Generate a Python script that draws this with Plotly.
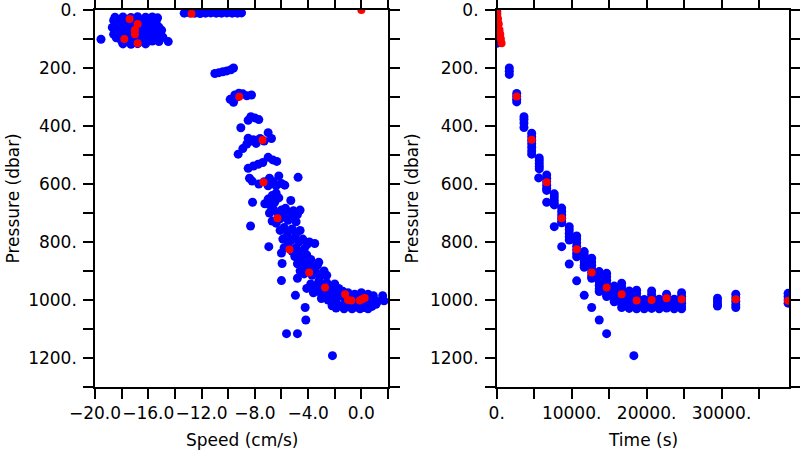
import plotly.graph_objects as go

# ---------------- data ----------------
# Left panel: (speed cm/s, pressure dbar) groups, blue points
left_surface_cluster = [
    (-18.5, 25), (-17.9, 24), (-17.3, 26), (-16.8, 23), (-16.2, 25), (-15.7, 24), (-15.3, 27),
    (-18.6, 36), (-18.0, 35), (-17.5, 37), (-16.9, 34), (-16.4, 36), (-15.8, 35), (-15.4, 38),
    (-18.4, 48), (-17.8, 47), (-17.2, 49), (-16.6, 46), (-16.0, 48), (-15.5, 50),
    (-18.7, 60), (-18.1, 59), (-17.5, 61), (-16.9, 58), (-16.3, 60), (-15.7, 62), (-15.2, 59),
    (-18.5, 72), (-17.9, 71), (-17.3, 73), (-16.7, 70), (-16.1, 72), (-15.5, 74), (-15.0, 70),
    (-18.6, 84), (-18.0, 83), (-17.4, 85), (-16.8, 82), (-16.2, 84), (-15.6, 86), (-15.1, 81),
    (-18.4, 96), (-17.8, 95), (-17.1, 97), (-16.5, 94), (-15.9, 96), (-15.3, 98), (-14.9, 94),
    (-18.0, 107), (-17.5, 108), (-16.9, 106), (-16.3, 108), (-15.7, 107), (-15.2, 109), (-14.5, 109),
    (-17.9, 117), (-17.3, 118), (-16.8, 116), (-16.2, 117),
    (-19.55, 101),
]
left_surface_line = [
    (-13.3, 11), (-12.9, 10), (-12.5, 11), (-12.1, 12), (-11.7, 11), (-11.3, 10),
    (-10.9, 11), (-10.5, 11), (-10.1, 10), (-9.7, 11), (-9.3, 11), (-9.0, 10),
]
left_mid_depth = [
    (-11.0, 219), (-10.7, 216), (-10.4, 213), (-10.1, 210), (-9.8, 206), (-9.6, 200),
    (-9.85, 308), (-9.6, 318), (-9.5, 293), (-9.2, 287), (-8.9, 289), (-8.6, 296), (-8.25, 293), (-9.35, 300),
    (-8.5, 380), (-8.3, 368), (-8.0, 372), (-7.7, 378), (-9.05, 406),
    (-9.25, 497), (-8.9, 478), (-8.6, 462), (-8.3, 452), (-8.5, 442), (-7.9, 460), (-7.6, 443),
    (-7.3, 452), (-7.0, 423), (-6.75, 443), (-8.1, 447),
    (-8.5, 546), (-8.1, 538), (-7.75, 532), (-7.4, 526), (-7.0, 508), (-6.65, 517), (-6.35, 522),
    (-8.4, 580), (-8.2, 590), (-7.7, 600), (-7.3, 592), (-6.9, 580), (-6.6, 592), (-6.2, 572),
    (-6.0, 598), (-5.75, 604), (-6.4, 606), (-7.0, 606), (-4.75, 577),
    (-8.17, 663), (-7.25, 668), (-7.0, 652), (-6.7, 640), (-6.4, 632), (-6.2, 648), (-6.5, 662),
    (-6.9, 672), (-5.3, 657),
    (-6.9, 700), (-6.6, 688), (-6.3, 700), (-6.0, 690), (-5.7, 684), (-5.4, 698), (-5.1, 692),
    (-4.8, 705), (-4.6, 690), (-6.7, 728), (-6.1, 720), (-5.8, 710), (-5.5, 725), (-5.2, 715),
    (-4.9, 730), (-6.4, 735), (-8.32, 745),
]
left_deep = [
    (-6.1, 760), (-5.8, 750), (-5.5, 765), (-5.2, 755), (-4.9, 770), (-4.6, 760),
    (-5.9, 790), (-5.6, 780), (-5.3, 795), (-5.0, 785), (-4.7, 800), (-4.4, 790), (-4.1, 810),
    (-5.8, 820), (-5.5, 810), (-5.2, 832), (-4.9, 820), (-4.6, 838), (-4.3, 825), (-3.9, 800), (-6.0, 838),
    (-6.95, 816), (-3.5, 805), (-5.95, 874), (-6.0, 933), (-4.95, 984), (-4.22, 1026),
    (-4.17, 1069), (-5.62, 1116), (-4.8, 1116), (-2.17, 1192),
    (-5.0, 850), (-4.7, 840), (-4.4, 855), (-4.1, 845), (-3.8, 860), (-4.8, 875), (-4.5, 868),
    (-4.2, 882), (-3.9, 875), (-3.6, 890), (-3.3, 880), (-4.6, 900), (-4.3, 910), (-4.0, 895),
    (-3.7, 915), (-3.4, 905), (-3.1, 920), (-2.8, 900), (-2.6, 915), (-4.8, 925), (-3.2, 870),
    (-4.1, 960), (-3.8, 945), (-3.5, 955), (-3.2, 935), (-2.9, 950), (-2.6, 940), (-2.3, 955),
    (-2.0, 945), (-1.7, 960), (-1.4, 970), (-3.6, 975), (-3.3, 965), (-3.0, 980), (-2.7, 970),
    (-2.4, 985), (-2.1, 975), (-1.8, 990), (-1.5, 985), (-2.5, 1000), (-2.2, 1010), (-1.9, 1005),
    (-3.0, 995),
]
left_bottom = [
    (-2.2, 1020), (-1.9, 1028), (-1.6, 1020), (-1.3, 1030), (-1.0, 1022), (-0.7, 1030),
    (-0.4, 1024), (-0.1, 1030), (0.2, 1026), (0.5, 1030), (0.8, 1022),
    (-1.2, 1000), (-0.9, 990), (-0.6, 1005), (-0.3, 995), (0.0, 1010), (0.3, 1000),
    (0.6, 1010), (0.9, 995), (1.2, 1005), (1.6, 985), (1.7, 1003),
    (-1.5, 970), (-1.0, 975), (-0.5, 980), (0.0, 975), (0.5, 980), (0.9, 985),
    (-0.8, 1015), (0.3, 1018), (1.1, 1015),
]
# Left panel red points
left_red = [
    (0.0, 0), (-12.75, 13), (-17.4, 31), (-16.8, 48), (-17.0, 69), (-17.0, 84), (-17.8, 100),
    (-16.8, 115), (-9.17, 299), (-7.42, 448), (-7.35, 594), (-6.3, 718), (-5.4, 826),
    (-3.92, 905), (-2.73, 957), (-1.22, 980), (-1.0, 1000), (-0.75, 1002), (-0.12, 1002),
    (0.25, 993), (0.05, 997),
]

# Right panel: time columns (s) with their pressures (dbar), blue points
col_times = [0, 1680, 2670, 3640, 4670, 5680, 5600, 6670, 7680, 8670, 9680, 10670, 11680,
             12670, 13680, 14670, 15680, 16670, 17680, 18300, 18670, 19680, 20670, 21680,
             22670, 23680, 24670, 29460, 31900, 38880]
col_pres = [
    [5, 25, 45, 65, 85, 100, 115],
    [200, 211, 222],
    [288, 298, 308, 317],
    [368, 378, 390, 405],
    [425, 437, 449, 461, 473, 486, 497],
    [510, 520, 530, 540, 548],
    [579],
    [569, 580, 592, 604, 615, 622, 663],
    [634, 645, 656, 667, 672, 747],
    [683, 695, 707, 718, 729, 734, 816],
    [747, 758, 770, 782, 793, 876],
    [779, 790, 802, 815, 828, 840, 851, 934],
    [833, 845, 857, 869, 880, 887, 984],
    [856, 868, 880, 892, 905, 917, 925, 1026],
    [902, 914, 926, 938, 950, 962, 971, 1069],
    [908, 920, 932, 945, 958, 970, 982, 988, 1116],
    [952, 964, 976, 988, 1000, 1006],
    [942, 954, 966, 978, 990, 1002, 1014, 1026],
    [969, 981, 993, 1005, 1017, 1029],
    [1192],
    [966, 978, 990, 1002, 1014, 1026, 1030],
    [998, 1010, 1022, 1030],
    [969, 981, 993, 1005, 1017, 1029],
    [997, 1009, 1021, 1030],
    [980, 992, 1004, 1016, 1028],
    [997, 1009, 1021, 1030],
    [975, 987, 999, 1011, 1023, 1030],
    [994, 1005, 1016, 1021],
    [980, 992, 1004, 1016, 1026],
    [977, 988, 1000, 1011],
]
# Right panel red points
right_red_time = [0, 90, 180, 280, 380, 470, 560, 650, 2670, 4670, 6670, 8670, 10670,
                  12670, 14670, 16670, 18670, 20670, 22670, 24670, 31900, 38880]
right_red_pres = [0, 14, 31, 48, 69, 84, 100, 115, 298, 447, 594, 718, 825,
                  905, 957, 980, 1002, 1000, 994, 997, 997, 1003]

# Tick labels
p_ticks = [0, 100, 200, 300, 400, 500, 600, 700, 800, 900, 1000, 1100, 1200, 1300]
p_labels = ["0.", "", "200.", "", "400.", "", "600.", "", "800.", "", "1000.", "", "1200.", ""]
speed_ticks = [-20, -18, -16, -14, -12, -10, -8, -6, -4, -2, 0, 2]
speed_labels = ["\u221220.0", "", "\u221216.0", "", "\u221212.0", "", "\u22128.0", "",
                "\u22124.0", "", "0.0", ""]
time_ticks = [0, 5000, 10000, 15000, 20000, 25000, 30000, 35000]
time_labels = ["0.", "", "10000.", "", "20000.", "", "30000.", ""]

# ---------------- figure ----------------
left_blue = left_surface_cluster + left_surface_line + left_mid_depth + left_deep + left_bottom
rt, rp = [], []
for t, ps in zip(col_times, col_pres):
    for p in ps:
        rt.append(t)
        rp.append(p)

BLUE = "#0000ff"
RED = "#ff0000"
fig = go.Figure()
fig.add_trace(go.Scatter(x=[a for a, b in left_blue], y=[b for a, b in left_blue], mode="markers",
                         marker=dict(color=BLUE, size=9, line=dict(width=0)), xaxis="x", yaxis="y"))
fig.add_trace(go.Scatter(x=[a for a, b in left_red], y=[b for a, b in left_red], mode="markers",
                         marker=dict(color=RED, size=8, line=dict(width=0)), xaxis="x", yaxis="y"))
fig.add_trace(go.Scatter(x=rt, y=rp, mode="markers",
                         marker=dict(color=BLUE, size=9, line=dict(width=0)), xaxis="x2", yaxis="y2"))
fig.add_trace(go.Scatter(x=right_red_time, y=right_red_pres, mode="markers",
                         marker=dict(color=RED, size=8, line=dict(width=0)), xaxis="x2", yaxis="y2"))

FONT = dict(family="DejaVu Sans", size=17, color="black")
common = dict(showline=True, linecolor="black", linewidth=1.5, mirror="allticks",
              ticks="outside", ticklen=10, tickwidth=1.5, tickcolor="black",
              showgrid=False, zeroline=False, tickfont=FONT, tickmode="array",
              automargin=False, tickangle=0, ticklabeloverflow="allow")

W, H = 800, 450
TOP, BOT = 10, 387
PH = BOT - TOP


def py(v):  # screen y -> paper y
    return (BOT - v) / PH


fig.update_layout(
    width=W, height=H, showlegend=False,
    paper_bgcolor="white", plot_bgcolor="white",
    margin=dict(l=0, r=0, t=TOP, b=H - BOT),
    font=FONT,
    xaxis=dict(domain=[95 / W, 388 / W], range=[-20, 2], tickvals=speed_ticks,
               ticktext=speed_labels, anchor="y", **common),
    yaxis=dict(domain=[0, 1], range=[1300, 0], tickvals=p_ticks, ticktext=p_labels, anchor="x",
               ticklabelstandoff=3, **common),
    xaxis2=dict(domain=[496.7 / W, 789 / W], range=[0, 39000], tickvals=time_ticks,
                ticktext=time_labels, anchor="y2", **common),
    yaxis2=dict(domain=[0, 1], range=[1300, 0], tickvals=p_ticks, ticktext=p_labels, anchor="x2",
                ticklabelstandoff=3, **common),
    annotations=[
        dict(text="Speed (cm/s)", x=241.5 / W, y=py(440), xref="paper", yref="paper",
             showarrow=False, xanchor="center", yanchor="middle", font=FONT),
        dict(text="Time (s)", x=643 / W, y=py(440), xref="paper", yref="paper",
             showarrow=False, xanchor="center", yanchor="middle", font=FONT),
        dict(text="Pressure (dbar)", x=12 / W, y=py(198.5), xref="paper", yref="paper",
             showarrow=False, xanchor="center", yanchor="middle", textangle=-90, font=FONT),
        dict(text="Pressure (dbar)", x=411 / W, y=py(198.5), xref="paper", yref="paper",
             showarrow=False, xanchor="center", yanchor="middle", textangle=-90, font=FONT),
    ],
)

fig.write_html("out.html", config={"displayModeBar": False},
               post_script="document.body.style.margin='0px';")
